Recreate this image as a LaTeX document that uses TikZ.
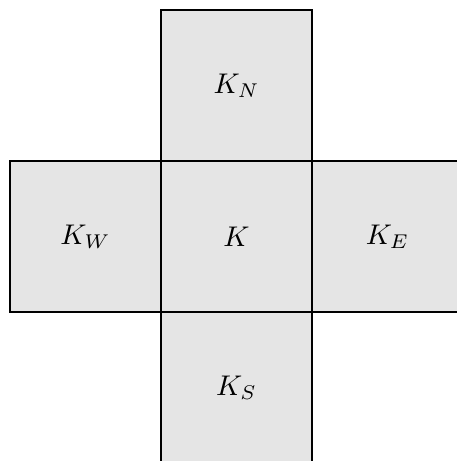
\documentclass[tikz,border=0pt]{standalone}
\begin{document}
\begin{tikzpicture}[x=0.02cm,y=-0.02cm,
  cell/.style={draw=black,fill=gray!20,line width=1.6pt,minimum size=3.02cm,inner sep=0pt,anchor=center},
  lbl/.style={scale=1.62,inner sep=0pt}]
\useasboundingbox (0,0) rectangle (457,461);
\clip (0,0) rectangle (457,461);
\node[cell] (K) at (236.5,236.5) {};
\node[cell] (KN) at (236.5,85.5) {};
\node[cell] (KS) at (236.5,387.5) {};
\node[cell] (KW) at (85.5,236.5) {};
\node[cell] (KE) at (387.5,236.5) {};
\node[lbl] (tK) at (K.center) {$K$};
\node[lbl] (tKN) at (KN.center) {$K_N$};
\node[lbl] (tKS) at (KS.center) {$K_S$};
\node[lbl] (tKW) at (KW.center) {$K_W$};
\node[lbl] (tKE) at (KE.center) {$K_E$};
\end{tikzpicture}
\end{document}
